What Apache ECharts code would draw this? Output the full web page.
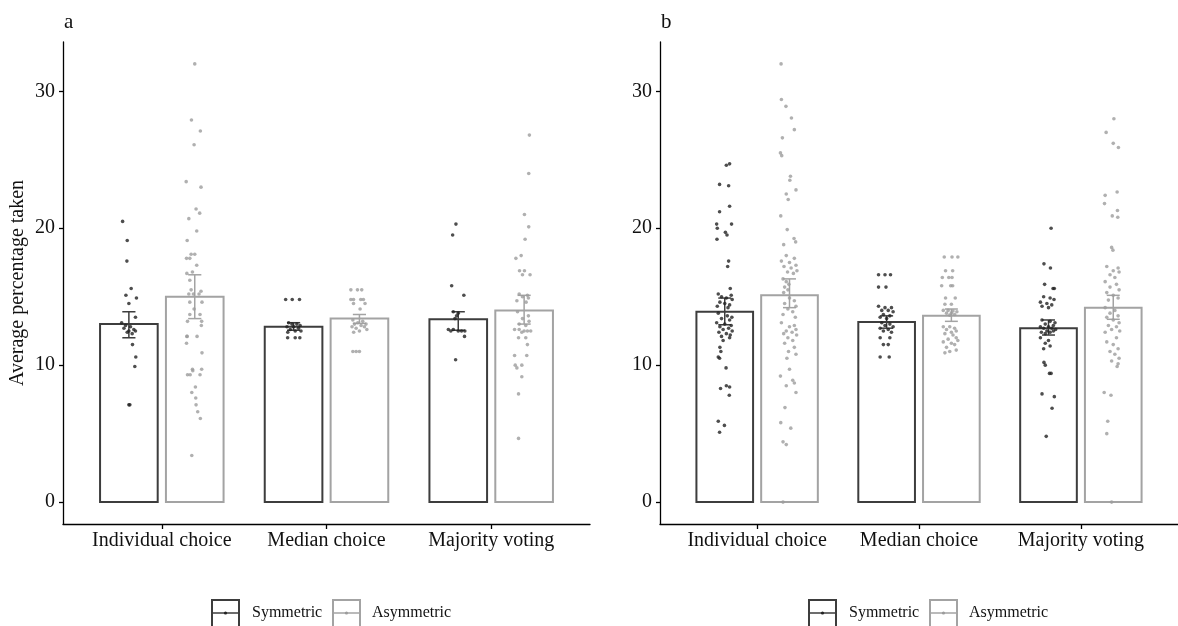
<!DOCTYPE html>
<html>
<head>
<meta charset="utf-8">
<script src="https://cdn.jsdelivr.net/npm/echarts@6/dist/echarts.min.js"></script>
<style>
  html, body { margin: 0; padding: 0; background: #fff; }
  #chart { width: 1178px; height: 626px; }
</style>
</head>
<body>
<div id="chart"></div>
<script>
// categories and tick labels
const categories = ['Individual choice', 'Median choice', 'Majority voting'];
const yTicks = [0, 10, 20, 30];
const groups = ['Symmetric', 'Asymmetric'];

// panel a: bar means and error bar ranges [low, high]
const symMeansA = [13.0, 12.8, 13.35];
const asymMeansA = [15.0, 13.4, 14.0];
const symErrA = [[12.0, 13.9], [12.55, 13.1], [12.55, 13.9]];
const asymErrA = [[13.4, 16.6], [13.05, 13.7], [13.0, 15.1]];

// panel b
const symMeansB = [13.9, 13.15, 12.7];
const asymMeansB = [15.1, 13.6, 14.2];
const symErrB = [[12.95, 14.9], [12.7, 13.6], [12.2, 13.3]];
const asymErrB = [[14.2, 16.3], [13.2, 14.1], [13.35, 15.1]];

// individual observations: [value, jitter]
const symIndA = [[20.5,-0.038],[19.1,-0.01],[17.6,-0.012],[15.6,0.014],[15.1,-0.018],[14.9,0.046],[14.5,0],[13.5,0.04],[13.1,-0.044],[12.9,-0.02],[12.8,0.01],[12.7,-0.03],[12.6,0.03],[12.5,0],[12.5,0.04],[12.4,-0.01],[12.3,0.02],[11.5,0.022],[10.6,0.042],[9.9,0.036],[7.1,0],[7.1,0.006]];
const asymIndA = [[32.0,0],[27.9,-0.02],[27.1,0.034],[26.1,-0.004],[23.4,-0.052],[23.0,0.038],[21.4,0.008],[21.1,0.03],[20.7,-0.036],[19.8,0.012],[19.1,-0.046],[18.1,-0.022],[18.1,0],[17.8,-0.05],[17.8,-0.03],[17.3,0.012],[16.8,-0.014],[16.7,-0.048],[16.2,-0.03],[15.5,-0.022],[15.4,0.038],[15.2,-0.036],[15.2,-0.008],[15.2,0.026],[14.6,-0.03],[14.6,0.044],[14.1,-0.004],[13.7,-0.03],[13.7,0.032],[13.2,-0.044],[13.2,0.042],[12.9,0.04],[12.1,-0.048],[12.1,-0.046],[12.1,0.014],[11.6,-0.05],[10.9,0.044],[9.7,-0.014],[9.7,0.042],[9.6,-0.012],[9.3,-0.044],[9.3,-0.028],[9.3,0.032],[8.4,0.004],[8.0,-0.018],[7.6,0.006],[7.1,0.008],[6.6,0.018],[6.1,0.034],[3.4,-0.018]];
const symMedA = [[14.8,-0.048],[14.8,-0.008],[14.8,0.036],[13.1,-0.03],[13.0,-0.01],[13.0,0.02],[12.9,0.04],[12.8,-0.04],[12.8,0],[12.7,0.03],[12.6,-0.02],[12.5,0.01],[12.5,0.045],[12.4,-0.035],[12.0,-0.036],[12.0,0.01],[12.0,0.038]];
const asymMedA = [[15.5,-0.052],[15.5,-0.012],[15.5,0.014],[14.8,-0.052],[14.8,-0.036],[14.8,0.008],[14.8,0.024],[14.5,-0.036],[14.5,0.034],[14.1,0.004],[13.3,-0.04],[13.2,0.02],[13.1,-0.01],[13.0,0.04],[13.0,-0.03],[12.9,0.01],[12.8,-0.045],[12.8,0.03],[12.7,-0.02],[12.6,0.045],[12.5,0],[12.4,-0.035],[11.0,-0.04],[11.0,-0.02],[11.0,0]];
const symMajA = [[20.3,-0.014],[19.5,-0.034],[15.8,-0.04],[15.1,0.034],[13.9,-0.03],[13.8,0],[13.6,-0.01],[13.4,-0.02],[12.6,-0.06],[12.6,-0.03],[12.5,0],[12.5,0.02],[12.5,0.04],[12.5,-0.045],[12.1,0.038],[10.4,-0.016]];
const asymMajA = [[26.8,0.032],[24.0,0.028],[21.0,0.002],[20.1,0.028],[19.2,0.006],[18.0,-0.018],[17.8,-0.05],[16.9,-0.028],[16.9,0.002],[16.6,0.036],[16.6,-0.01],[15.2,-0.03],[15.1,0.02],[15.0,-0.01],[14.9,0.026],[14.7,-0.044],[14.6,0.012],[13.9,-0.04],[13.6,0.026],[13.4,-0.01],[13.2,0.03],[13.0,-0.03],[12.9,0.01],[12.6,-0.058],[12.6,-0.03],[12.5,0],[12.5,0.02],[12.5,0.04],[12.4,-0.014],[12.0,-0.034],[12.0,0.01],[11.5,0.02],[10.7,-0.058],[10.7,0.016],[10.0,-0.054],[10.0,-0.014],[9.8,-0.044],[9.15,-0.014],[7.9,-0.034],[4.65,-0.034]];

const symIndB = [[24.6,0.01],[24.7,0.03],[23.2,-0.032],[23.1,0.024],[21.6,0.03],[21.2,-0.032],[20.3,-0.05],[20.0,-0.046],[20.3,0.042],[19.7,0.004],[19.5,0.014],[19.2,-0.048],[17.6,0.024],[17.2,0.018],[15.6,0.034],[15.2,-0.04],[15.1,0.04],[15.0,-0.02],[14.9,0.01],[14.8,0.046],[14.6,-0.03],[14.5,0],[14.4,0.03],[14.3,-0.046],[14.2,0.02],[13.8,-0.04],[13.6,0.016],[13.5,0.044],[13.4,-0.02],[13.3,0.03],[13.1,-0.05],[13.0,0],[12.9,0.04],[12.8,-0.03],[12.7,0.024],[12.6,-0.01],[12.5,0.046],[12.4,-0.036],[12.3,0.01],[12.2,0.034],[12.1,-0.02],[12.0,0.03],[11.8,-0.01],[11.3,-0.03],[11.0,-0.024],[10.6,-0.04],[10.5,-0.032],[9.8,0.008],[8.5,0.01],[8.4,0.03],[8.3,-0.026],[7.8,0.028],[5.9,-0.04],[5.6,-0.002],[5.1,-0.032]];
const asymIndB = [[32.0,-0.052],[29.4,-0.05],[28.9,-0.022],[28.05,0.012],[27.2,0.03],[26.6,-0.044],[25.5,-0.056],[25.3,-0.048],[23.8,0.006],[23.5,0.002],[22.5,-0.02],[22.1,-0.008],[22.8,0.04],[20.9,-0.054],[19.9,-0.014],[19.25,0.028],[18.8,-0.036],[19.0,0.038],[18.0,-0.02],[17.8,0.03],[17.6,-0.05],[17.5,0],[17.3,0.04],[17.2,-0.034],[17.1,0.01],[16.9,0.046],[16.8,-0.012],[16.7,0.024],[16.3,-0.04],[16.1,-0.02],[15.9,-0.004],[15.7,-0.03],[15.5,-0.01],[15.3,-0.036],[14.9,0],[14.7,0.03],[14.5,-0.03],[14.3,0.04],[14.1,-0.01],[13.9,0.02],[13.7,-0.04],[13.5,0.036],[13.1,-0.05],[12.9,0.03],[12.8,0],[12.6,0.04],[12.5,-0.02],[12.4,0.016],[12.3,-0.036],[12.2,0.044],[12.0,-0.01],[11.8,0.02],[11.6,-0.03],[11.3,0.03],[11.0,-0.006],[10.8,0.04],[10.5,-0.016],[9.7,0],[9.2,-0.056],[8.9,0.02],[8.7,0.03],[8.5,-0.02],[8.0,0.04],[6.9,-0.028],[5.8,-0.054],[5.4,0.008],[4.4,-0.04],[4.2,-0.02],[0,-0.04]];
const symMedB = [[16.6,-0.05],[16.6,-0.01],[16.6,0.024],[15.7,-0.05],[15.7,-0.004],[14.3,-0.05],[14.2,-0.01],[14.2,0.03],[14.0,-0.03],[14.0,0.01],[13.9,0.04],[13.7,-0.02],[13.6,0.02],[13.5,-0.04],[13.4,0],[13.1,-0.03],[13.0,0.02],[12.9,-0.01],[12.8,0.04],[12.7,-0.04],[12.6,0.01],[12.5,-0.02],[12.4,0.03],[12.0,-0.04],[12.0,0.02],[11.5,-0.02],[11.5,0.01],[10.6,-0.04],[10.6,0.016]];
const asymMedB = [[17.9,-0.044],[17.9,0.004],[17.9,0.04],[16.9,-0.036],[16.9,0.008],[16.4,-0.056],[16.4,-0.016],[16.4,0.004],[15.8,-0.06],[15.8,-0.004],[15.8,0.008],[14.9,-0.036],[14.9,0.024],[14.45,-0.04],[14.45,0],[14.0,-0.05],[14.0,-0.02],[13.95,0.01],[13.9,0.034],[13.8,-0.03],[13.8,0],[13.7,0.02],[13.65,-0.01],[12.8,-0.05],[12.8,-0.01],[12.7,0.02],[12.6,-0.03],[12.5,0.03],[12.4,0],[12.3,-0.04],[12.2,0.01],[12.0,0.03],[11.9,-0.02],[11.8,0.04],[11.7,-0.05],[11.6,0],[11.5,0.02],[11.3,-0.03],[11.1,0.03],[11.0,-0.01],[10.9,-0.04]];
const symMajB = [[20.0,0.016],[17.4,-0.028],[17.1,0.012],[15.9,-0.024],[15.6,0.028],[15.6,0.036],[15.0,-0.03],[14.9,0.01],[14.8,0.034],[14.6,-0.05],[14.5,-0.01],[14.4,0.02],[14.3,-0.04],[14.2,0],[13.3,-0.04],[13.2,0.01],[13.1,0.04],[13.0,-0.02],[12.9,0.03],[12.8,-0.05],[12.8,0],[12.7,0.02],[12.7,-0.03],[12.6,0.044],[12.5,-0.01],[12.5,0.03],[12.4,-0.044],[12.4,0.01],[12.3,-0.02],[12.0,-0.05],[11.8,0],[11.6,-0.02],[11.4,0.01],[11.2,-0.03],[10.2,-0.028],[10.0,-0.02],[9.4,0.006],[9.4,0.016],[7.9,-0.04],[7.7,0.036],[6.85,0.022],[4.8,-0.014]];
const asymMajB = [[28.0,0.004],[27.0,-0.044],[26.2,0],[25.9,0.032],[22.65,0.024],[22.4,-0.05],[21.8,-0.054],[21.3,0.026],[20.9,-0.006],[20.8,0.028],[18.6,-0.01],[18.4,-0.002],[17.2,-0.04],[17.1,0.03],[16.9,0],[16.8,0.036],[16.6,-0.02],[16.4,0.01],[16.1,-0.05],[15.9,0.02],[15.7,-0.02],[15.5,0.036],[15.3,-0.04],[15.1,0],[14.9,0.03],[14.75,-0.03],[14.2,-0.05],[14.0,0.01],[13.8,-0.02],[13.6,0.03],[13.5,-0.04],[13.3,0],[13.1,0.036],[12.9,-0.03],[12.8,0.02],[12.6,-0.01],[12.5,0.04],[12.4,-0.05],[12.0,0.02],[11.7,-0.04],[11.5,0],[11.2,0.03],[11.0,-0.02],[10.8,0.01],[10.5,0.036],[10.3,-0.01],[10.1,0.03],[9.9,0.024],[8.0,-0.056],[7.8,-0.014],[5.9,-0.034],[5.0,-0.04],[0,-0.01]];

const DARK = '#3d3d3d';
const LIGHT = '#a3a3a3';
const DARK_PT = '#222222';
const LIGHT_PT = '#9c9c9c';
const FONT = 'Liberation Serif';
const DODGE = 0.2;
const BAR_W = 0.35;
const CAP_W = 0.08;
const gridLefts = [63, 660];

function barSeries(g, means, off, color) {
    return {
        type: 'custom', xAxisIndex: g, yAxisIndex: g, silent: true, z: 2,
        data: means.map((m, i) => [i + 1 + off, m]),
        renderItem: (params, api) => {
            const top = api.coord([api.value(0), api.value(1)]);
            const base = api.coord([api.value(0), 0]);
            const w = api.size([BAR_W, 0])[0];
            return {
                type: 'rect',
                shape: { x: top[0] - w / 2, y: top[1], width: w, height: base[1] - top[1] },
                style: { fill: '#fff', stroke: color, lineWidth: 2 }
            };
        }
    };
}

function errSeries(g, errs, off, color) {
    return {
        type: 'custom', xAxisIndex: g, yAxisIndex: g, silent: true, z: 3,
        data: errs.map((e, i) => [i + 1 + off, e[0], e[1]]),
        renderItem: (params, api) => {
            const lo = api.coord([api.value(0), api.value(1)]);
            const hi = api.coord([api.value(0), api.value(2)]);
            const c = api.size([CAP_W, 0])[0] / 2;
            const st = { stroke: color, lineWidth: 1.5 };
            return {
                type: 'group',
                children: [
                    { type: 'line', shape: { x1: lo[0], y1: lo[1], x2: hi[0], y2: hi[1] }, style: st },
                    { type: 'line', shape: { x1: lo[0] - c, y1: lo[1], x2: lo[0] + c, y2: lo[1] }, style: st },
                    { type: 'line', shape: { x1: hi[0] - c, y1: hi[1], x2: hi[0] + c, y2: hi[1] }, style: st }
                ]
            };
        }
    };
}

function pointSeries(g, lists, off, color) {
    const data = [];
    lists.forEach((pts, i) => {
        pts.forEach(p => data.push([i + 1 + off + p[1], p[0]]));
    });
    return {
        type: 'scatter', xAxisIndex: g, yAxisIndex: g, silent: true, z: 4,
        symbolSize: 3.6, itemStyle: { color: color },
        data: data
    };
}

function legendGraphics(L) {
    const items = [];
    [[0, DARK, DARK_PT, groups[0], 149, 189], [1, LIGHT, LIGHT_PT, groups[1], 270, 309]].forEach(d => {
        const bx = L + d[4];
        items.push({ type: 'rect', shape: { x: bx, y: 600, width: 27, height: 40 }, style: { fill: '#fff', stroke: d[1], lineWidth: 2 } });
        items.push({ type: 'line', shape: { x1: bx, y1: 613, x2: bx + 27, y2: 613 }, style: { stroke: d[1], lineWidth: 1.5 } });
        items.push({ type: 'circle', shape: { cx: bx + 13.5, cy: 613, r: 1.6 }, style: { fill: d[2] } });
        items.push({ type: 'text', x: L + d[5], y: 613, style: { text: d[3], font: '16px ' + FONT, fill: '#111', verticalAlign: 'middle' } });
    });
    return items;
}

const xAxisBase = g => ({
    type: 'value', gridIndex: g, min: 0.4, max: 3.6,
    splitLine: { show: false },
    axisLine: { show: true, onZero: false, lineStyle: { color: '#000', width: 1.3 } },
    axisTick: { show: true, customValues: [1, 2, 3], length: 5, lineStyle: { color: '#000', width: 1.3 } },
    axisLabel: { customValues: [1, 2, 3], formatter: v => categories[Math.round(v) - 1], fontFamily: FONT, fontSize: 20, color: '#111', margin: 7 }
});
const yAxisBase = g => ({
    type: 'value', gridIndex: g, min: -1.6, max: 33.6,
    splitLine: { show: false },
    axisLine: { show: true, onZero: false, lineStyle: { color: '#000', width: 1.3 } },
    axisTick: { show: true, customValues: yTicks, length: 4, lineStyle: { color: '#000', width: 1.3 } },
    axisLabel: { customValues: yTicks, fontFamily: FONT, fontSize: 20, color: '#111', margin: 8 }
});

const chart = echarts.init(document.getElementById('chart'));
chart.setOption({
    animation: false,
    backgroundColor: '#fff',
    grid: [
        { left: gridLefts[0], top: 42, width: 527, height: 482 },
        { left: gridLefts[1], top: 42, width: 527, height: 482 }
    ],
    xAxis: [xAxisBase(0), xAxisBase(1)],
    yAxis: [yAxisBase(0), yAxisBase(1)],
    series: [
        barSeries(0, symMeansA, -DODGE, DARK),
        barSeries(0, asymMeansA, DODGE, LIGHT),
        errSeries(0, symErrA, -DODGE, DARK),
        errSeries(0, asymErrA, DODGE, LIGHT),
        pointSeries(0, [symIndA, symMedA, symMajA], -DODGE, DARK_PT),
        pointSeries(0, [asymIndA, asymMedA, asymMajA], DODGE, LIGHT_PT),
        barSeries(1, symMeansB, -DODGE, DARK),
        barSeries(1, asymMeansB, DODGE, LIGHT),
        errSeries(1, symErrB, -DODGE, DARK),
        errSeries(1, asymErrB, DODGE, LIGHT),
        pointSeries(1, [symIndB, symMedB, symMajB], -DODGE, DARK_PT),
        pointSeries(1, [asymIndB, asymMedB, asymMajB], DODGE, LIGHT_PT)
    ],
    graphic: [
        { type: 'text', x: 64, y: 22, style: { text: 'a', font: '21px ' + FONT, fill: '#111', verticalAlign: 'middle' } },
        { type: 'text', x: 661, y: 22, style: { text: 'b', font: '21px ' + FONT, fill: '#111', verticalAlign: 'middle' } },
        { type: 'text', x: 18, y: 283, rotation: Math.PI / 2, style: { text: 'Average percentage taken', font: '20px ' + FONT, fill: '#111', align: 'center', verticalAlign: 'middle' } }
    ].concat(legendGraphics(gridLefts[0]), legendGraphics(gridLefts[1]))
});
</script>
</body>
</html>
